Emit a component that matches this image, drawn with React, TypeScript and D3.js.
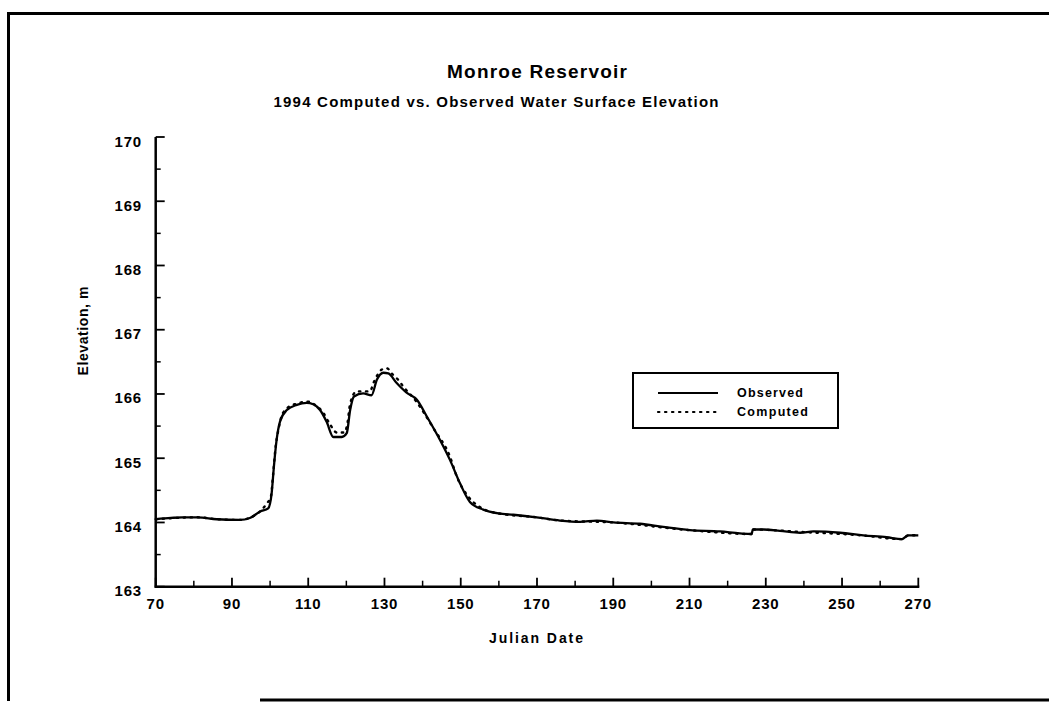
import React from "react";
import * as d3 from "d3";

const obsDays = [70, 74, 77, 81, 86, 92, 94.7, 97.4, 99.5, 100.4, 101, 101.7, 102.6, 104.4, 107, 109.6, 111.3, 113.1, 114.8, 116.6, 118.8, 120.1, 121, 122, 124.4, 126.6, 128, 129.7, 131, 133.2, 135.8, 138.5, 141.1, 144.6, 147.2, 149.8, 152.4, 155.9, 159.9, 163.8, 169.9, 176, 181.3, 185.7, 190, 197, 203.1, 210.1, 218, 223.2, 226.3, 226.6, 229.4, 233.7, 239, 242.5, 249.5, 255.6, 261.7, 265.7, 267.4, 270];
const obsElev = [164.05, 164.07, 164.08, 164.08, 164.05, 164.04, 164.07, 164.17, 164.22, 164.45, 164.87, 165.28, 165.57, 165.75, 165.83, 165.86, 165.84, 165.75, 165.57, 165.33, 165.33, 165.39, 165.75, 165.96, 166.01, 165.98, 166.22, 166.33, 166.32, 166.17, 166.02, 165.91, 165.65, 165.28, 164.97, 164.61, 164.32, 164.2, 164.14, 164.12, 164.08, 164.03, 164.01, 164.03, 164.0, 163.98, 163.93, 163.88, 163.86, 163.83, 163.82, 163.89, 163.89, 163.87, 163.84, 163.86, 163.84, 163.8, 163.77, 163.74, 163.8, 163.8];

const compDays = [70, 81, 86, 92, 95, 97.5, 99.2, 100.2, 100.8, 101.4, 102.2, 103, 104.5, 107, 110, 112, 113.8, 115.5, 117.5, 119.5, 120.3, 121, 122.7, 126.2, 127.1, 128.2, 129.3, 130.6, 132.2, 133.6, 135, 138.5, 140.2, 142.8, 147.2, 149, 152, 155, 160, 170, 176, 190, 210, 226.3, 226.6, 240, 255, 265.7, 267.4, 270];
const compElev = [164.05, 164.08, 164.05, 164.04, 164.08, 164.18, 164.3, 164.4, 164.75, 165.15, 165.45, 165.65, 165.78, 165.85, 165.88, 165.82, 165.72, 165.55, 165.4, 165.4, 165.55, 165.85, 166.04, 166.04, 166.17, 166.3, 166.38, 166.4, 166.3, 166.22, 166.11, 165.87, 165.72, 165.47, 165.02, 164.71, 164.4, 164.24, 164.14, 164.08, 164.03, 164.0, 163.88, 163.82, 163.89, 163.85, 163.8, 163.74, 163.8, 163.8];

const xMajorTicks = [70, 90, 110, 130, 150, 170, 190, 210, 230, 250, 270];
const xMinorTicks = [80, 100, 120, 140, 160, 180, 200, 220, 240, 260];
const yMajorTicks = [163, 164, 165, 166, 167, 168, 169, 170];
const yMinorTicks = [163.5, 164.5, 165.5, 166.5, 167.5, 168.5, 169.5];

const titleText = "Monroe Reservoir";
const subtitleText = "1994 Computed vs. Observed Water Surface Elevation";
const xLabel = "Julian Date";
const yLabel = "Elevation, m";
const legendNames = ["Observed", "Computed"];

const FONT = "'Liberation Sans', Arial, Helvetica, sans-serif";

export default function App() {
  const x = d3.scaleLinear().domain([70, 270]).range([155.7, 918.3]);
  const y = d3.scaleLinear().domain([163, 170]).range([586.7, 137]);

  const obsPts: [number, number][] = obsDays.map((d, i) => [d, obsElev[i]]);
  const compPts: [number, number][] = compDays.map((d, i) => [d, compElev[i]]);

  const line = d3
    .line<[number, number]>()
    .x((d) => x(d[0]))
    .y((d) => y(d[1]))
    .curve(d3.curveMonotoneX);

  const x0 = x(70);
  const y0 = y(163);

  return (
    <svg
      width={1049}
      height={704}
      style={{ position: "absolute", left: 0, top: 0, background: "#fff" }}
      fontFamily={FONT}
    >
      <rect x={0} y={0} width={1049} height={704} fill="#fff" />
      {/* frame */}
      <line x1={7} y1={13.5} x2={1049} y2={13.5} stroke="#000" strokeWidth={3} />
      <line x1={8.5} y1={12} x2={8.5} y2={701} stroke="#000" strokeWidth={3} />
      <line x1={260} y1={700} x2={1049} y2={700} stroke="#000" strokeWidth={3} />

      {/* titles */}
      <text x={537} y={78} textAnchor="middle" fontSize={19} fontWeight="bold" textLength={180} lengthAdjust="spacing">
        {titleText}
      </text>
      <text x={496} y={107} textAnchor="middle" fontSize={15} fontWeight="bold" textLength={445} lengthAdjust="spacing">
        {subtitleText}
      </text>

      {/* axes */}
      <line x1={x0} y1={y(170)} x2={x0} y2={y0 + 1} stroke="#000" strokeWidth={2.5} />
      <line x1={x0 - 1} y1={y0} x2={x(270) + 1} y2={y0} stroke="#000" strokeWidth={2.5} />

      {xMajorTicks.map((t) => (
        <g key={"xm" + t}>
          <line x1={x(t)} x2={x(t)} y1={y0} y2={y0 - 9} stroke="#000" strokeWidth={1.8} />
          <text x={x(t)} y={609} textAnchor="middle" fontSize={15} fontWeight="bold" letterSpacing={0.8}>
            {t}
          </text>
        </g>
      ))}
      {xMinorTicks.map((t) => (
        <line key={"xn" + t} x1={x(t)} x2={x(t)} y1={y0} y2={y0 - 6} stroke="#000" strokeWidth={1.5} />
      ))}
      {yMajorTicks.map((t) => (
        <g key={"ym" + t}>
          <line x1={x0} x2={x0 + 9} y1={y(t)} y2={y(t)} stroke="#000" strokeWidth={1.8} />
          <text x={142} y={y(t) + 9.5} textAnchor="end" fontSize={15} fontWeight="bold" letterSpacing={0.8}>
            {t}
          </text>
        </g>
      ))}
      {yMinorTicks.map((t) => (
        <line key={"yn" + t} x1={x0} x2={x0 + 5} y1={y(t)} y2={y(t)} stroke="#000" strokeWidth={1.5} />
      ))}

      {/* axis labels */}
      <text x={536} y={643} textAnchor="middle" fontSize={14} fontWeight="bold" textLength={94} lengthAdjust="spacing">
        {xLabel}
      </text>
      <text
        transform={`translate(88, 331) rotate(-90)`}
        textAnchor="middle"
        fontSize={14}
        fontWeight="bold"
        textLength={89}
        lengthAdjust="spacing"
      >
        {yLabel}
      </text>

      {/* data */}
      <path d={line(compPts) ?? ""} fill="none" stroke="#000" strokeWidth={2.4} strokeDasharray="1.4,5.6" strokeLinecap="round" />
      <path d={line(obsPts) ?? ""} fill="none" stroke="#000" strokeWidth={2.3} strokeLinejoin="round" />

      {/* legend */}
      <rect x={633} y={373} width={205} height={55} fill="#fff" stroke="#000" strokeWidth={2} />
      <line x1={658} x2={718} y1={393} y2={393} stroke="#000" strokeWidth={2} />
      <line x1={658} x2={718} y1={412} y2={412} stroke="#000" strokeWidth={2.2} strokeDasharray="1.4,5.6" strokeLinecap="round" />
      <text x={737} y={397} fontSize={12.5} fontWeight="bold" textLength={66} lengthAdjust="spacing">
        {legendNames[0]}
      </text>
      <text x={737} y={416} fontSize={12.5} fontWeight="bold" textLength={71} lengthAdjust="spacing">
        {legendNames[1]}
      </text>
    </svg>
  );
}
